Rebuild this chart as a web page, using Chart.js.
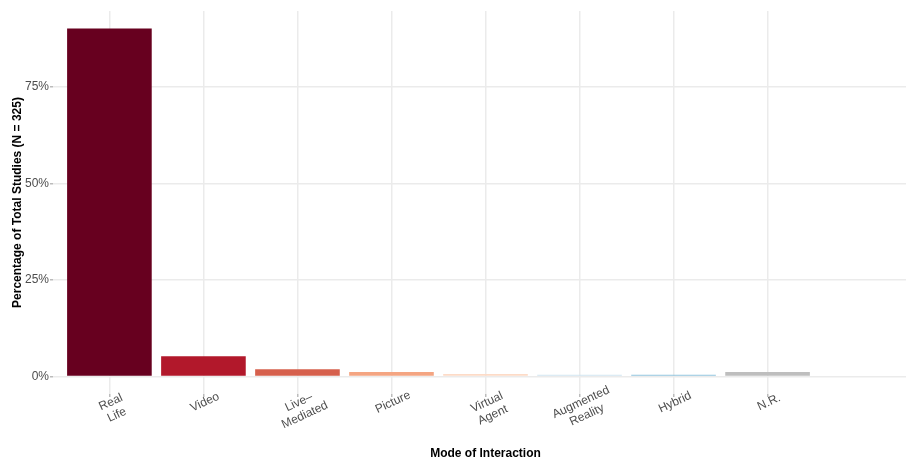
<!DOCTYPE html>
<html><head><meta charset="utf-8">
<script src="https://cdn.jsdelivr.net/npm/chart.js@4.4.1/dist/chart.umd.min.js"></script>
<style>
html,body{margin:0;padding:0;overflow:hidden;background:#fff;width:906px;height:462px}
#wrap{position:relative;width:918px;height:462px}
</style></head>
<body><div id="wrap"><canvas id="c" width="918" height="462"></canvas></div>
<script>
const categories = ["Real\nLife", "Video", "Live\u2013\nMediated", "Picture", "Virtual\nAgent", "Augmented\nReality", "Hybrid", "N.R."];
const percentages = [90.2, 5.3, 1.9, 1.2, 0.65, 0.45, 0.45, 1.2];
const barColors = ["#67001F", "#B2182B", "#D6604D", "#F4A582", "#FDDBC7", "#D1E5F0", "#92C5DE", "#BEBEBE"];
const yTickValues = [0, 25, 50, 75];
const slotCount = 9;

const FONT = '"Liberation Sans", Arial, Helvetica, sans-serif';
const maxVal = Math.max(...percentages);

const xLabelPlugin = {
  id: 'xLabels',
  afterDraw(chart) {
    const sx = chart.scales.x, ctx = chart.ctx;
    ctx.save();
    ctx.font = '12px ' + FONT;
    ctx.fillStyle = '#4D4D4D';
    ctx.textAlign = 'center';
    ctx.textBaseline = 'middle';
    categories.forEach((lab, i) => {
      const px = sx.getPixelForValue(i);
      ctx.save();
      ctx.translate(px - 1.5, sx.top + 2);
      ctx.rotate(-25 * Math.PI / 180);
      lab.split('\n').forEach((line, j) => ctx.fillText(line, 0, 14 * (j + 0.5)));
      ctx.restore();
    });
    ctx.restore();
  }
};

new Chart(document.getElementById('c'), {
  type: 'bar',
  data: {
    datasets: [{
      data: percentages.map((v, i) => ({x: i, y: v})),
      backgroundColor: barColors,
      borderWidth: 0,
      barPercentage: 0.9,
      categoryPercentage: 1.0
    }]
  },
  options: {
    responsive: false,
    animation: false,
    layout: {padding: {top: 11, left: 0, right: 0, bottom: 0}},
    plugins: {legend: {display: false}, tooltip: {enabled: false}},
    scales: {
      x: {
        type: 'linear',
        offset: false,
        min: -0.6,
        max: slotCount - 1 + 0.6,
        afterBuildTicks: s => { s.ticks = categories.map((_, i) => ({value: i})); },
        afterFit: s => { s.height = 68; },
        ticks: {display: false},
        grid: {offset: false, color: '#EBEBEB', lineWidth: 1.5, tickLength: 3, tickColor: '#BBBBBB'},
        border: {display: false},
        title: {display: true, text: 'Mode of Interaction', color: '#000', padding: {top: 0, bottom: 1},
                font: {family: FONT, size: 12, weight: 'bold'}}
      },
      y: {
        min: -0.05 * maxVal,
        max: 1.05 * maxVal,
        afterBuildTicks: s => { s.ticks = yTickValues.map(v => ({value: v})); },
        afterFit: s => { s.width = 53; },
        ticks: {color: '#4D4D4D', padding: 1, font: {family: FONT, size: 12}, callback: v => v + '%'},
        grid: {color: '#EBEBEB', lineWidth: 1.5, tickLength: 3, tickColor: '#BBBBBB'},
        border: {display: false},
        title: {display: true, text: 'Percentage of Total Studies (N = 325)', color: '#000', padding: {top: 10, bottom: 0},
                font: {family: FONT, size: 12, weight: 'bold'}}
      }
    }
  },
  plugins: [xLabelPlugin]
});
</script>
</body></html>
